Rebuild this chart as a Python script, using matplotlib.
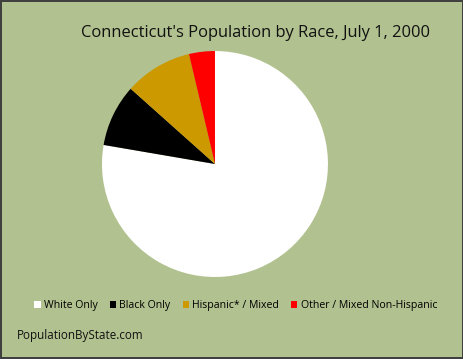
import matplotlib.pyplot as plt
from matplotlib.patches import Patch

# Connecticut population by race, July 1, 2000 (percent)
labels = ['White Only', 'Black Only', 'Hispanic* / Mixed', 'Other / Mixed Non-Hispanic']
shares = [77.7, 8.9, 9.7, 3.7]
colors = ['#FFFFFF', '#000000', '#CC9900', '#FF0000']

bg = '#B1C18F'

fig = plt.figure(figsize=(4.64, 3.59), dpi=100, facecolor=bg)
fig.patch.set_edgecolor('#404040')
fig.patch.set_linewidth(1.5)

ax = fig.add_axes([0.2198, 0.2284, 0.487, 0.6295])
ax.set_facecolor(bg)
ax.pie(shares, colors=colors, startangle=90, counterclock=False,
       wedgeprops=dict(linewidth=0))
ax.set_xlim(-1, 1)
ax.set_ylim(-1, 1)
ax.set_aspect('equal')
ax.axis('off')

fig.text(0.55, 0.907, "Connecticut's Population by Race, July 1, 2000",
         ha='center', va='center', fontsize=11.9, family='Open Sans', color='#111111')

handles = [Patch(facecolor=c, edgecolor='none') for c in colors]
fig.legend(handles, labels, loc='center', bbox_to_anchor=(0.508, 0.148), ncol=4,
           frameon=False, handlelength=0.6, handleheight=0.6,
           handletextpad=0.3, columnspacing=1.15, prop={'family': 'Open Sans', 'size': 7.6})

fig.text(0.037, 0.066, 'PopulationByState.com', ha='left', va='center',
         fontsize=8.4, family='Open Sans', color='#111111')

fig.savefig('out.png', dpi=100, facecolor=bg, edgecolor='#404040')
